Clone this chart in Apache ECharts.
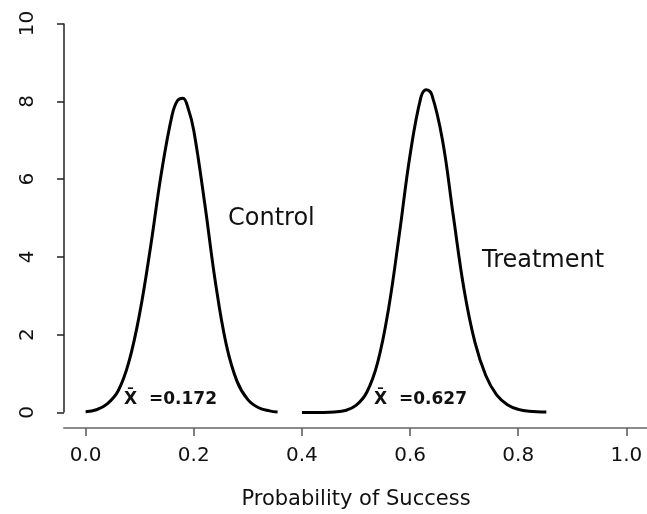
<!DOCTYPE html>
<html>
<head>
<meta charset="utf-8">
<script src="https://cdn.jsdelivr.net/npm/echarts@6/dist/echarts.min.js"></script>
<style>
  html, body { margin: 0; padding: 0; background: #fff; }
  #chart { width: 647px; height: 514px; }
</style>
</head>
<body>
<div id="chart"></div>
<script>
// tick labels
const xTicks = [0, 0.2, 0.4, 0.6, 0.8, 1.0];
const yTicks = [0, 2, 4, 6, 8, 10];

// density curves
const controlX = [0, 0.02, 0.04, 0.06, 0.08, 0.10, 0.12, 0.14, 0.16, 0.17, 0.18, 0.19, 0.20, 0.22, 0.24, 0.26, 0.28, 0.30, 0.32, 0.34, 0.355];
const controlY = [0.02, 0.07, 0.22, 0.55, 1.30, 2.55, 4.25, 6.15, 7.65, 8.02, 8.08, 7.80, 7.25, 5.40, 3.35, 1.75, 0.80, 0.33, 0.12, 0.04, 0.01];
const treatX = [0.40, 0.42, 0.44, 0.46, 0.48, 0.50, 0.52, 0.54, 0.56, 0.58, 0.60, 0.62, 0.63, 0.64, 0.66, 0.68, 0.70, 0.72, 0.74, 0.76, 0.78, 0.80, 0.82, 0.852];
const treatY = [0.00, 0.00, 0.00, 0.01, 0.05, 0.18, 0.52, 1.28, 2.65, 4.57, 6.62, 8.10, 8.30, 8.18, 7.00, 5.05, 3.15, 1.80, 0.95, 0.45, 0.20, 0.08, 0.03, 0.01];

const groups = ["Control", "Treatment"];
const means = ["0.172", "0.627"];

const xMin = -0.04;
const font = "DejaVu Sans";

const myChart = echarts.init(document.getElementById("chart"));

function pairs(xs, ys) {
  return xs.map((x, i) => [x, ys[i]]);
}

const option = {
  animation: false,
  backgroundColor: "#fff",
  grid: {
    left: 64,
    top: 8,
    width: 584,
    height: 420,
    outerBoundsMode: "none",
  },
  xAxis: {
    type: "value",
    min: xMin,
    max: 1.04,
    splitLine: { show: false },
    axisLine: { onZero: false, lineStyle: { color: "#8a8a8a", width: 2 } },
    axisTick: { customValues: xTicks, length: 8, lineStyle: { color: "#555", width: 1.5 } },
    axisLabel: {
      customValues: xTicks,
      formatter: (v) => v.toFixed(1),
      margin: 18,
      fontFamily: font,
      fontSize: 20,
      color: "#111",
    },
    name: "Probability of Success",
    nameLocation: "middle",
    nameGap: 61,
    nameTextStyle: { fontFamily: font, fontSize: 21, color: "#111" },
  },
  yAxis: {
    type: "value",
    min: -0.4,
    max: 10.4,
    splitLine: { show: false },
    axisLine: { show: false, onZero: false },
    axisTick: { customValues: yTicks, length: 7, lineStyle: { color: "#222", width: 1.5 } },
    axisLabel: {
      customValues: yTicks,
      rotate: 90,
      margin: 26,
      fontFamily: font,
      fontSize: 20,
      color: "#111",
    },
  },
  series: [
    {
      // y axis line, only from first to last tick
      type: "line",
      data: [[xMin, yTicks[0]], [xMin, yTicks[yTicks.length - 1]]],
      showSymbol: false,
      clip: false,
      silent: true,
      lineStyle: { color: "#222", width: 1.5 },
    },
    {
      name: groups[0],
      type: "line",
      data: pairs(controlX, controlY),
      smooth: 0.4,
      showSymbol: false,
      lineStyle: { color: "#000", width: 3 },
    },
    {
      name: groups[1],
      type: "line",
      data: pairs(treatX, treatY),
      smooth: 0.4,
      showSymbol: false,
      lineStyle: { color: "#000", width: 3 },
    },
  ],
  graphic: [
    { type: "text", left: 228, top: 207, style: { text: groups[0], font: "24px " + font, fill: "#111" } },
    { type: "text", left: 482, top: 249, style: { text: groups[1], font: "24px " + font, fill: "#111" } },
    { type: "text", left: 124, top: 391, style: { text: "X\u0304  =" + means[0], font: "bold 17px " + font, fill: "#111" } },
    { type: "text", left: 374, top: 391, style: { text: "X\u0304  =" + means[1], font: "bold 17px " + font, fill: "#111" } },
  ],
};

myChart.setOption(option);
</script>
</body>
</html>
